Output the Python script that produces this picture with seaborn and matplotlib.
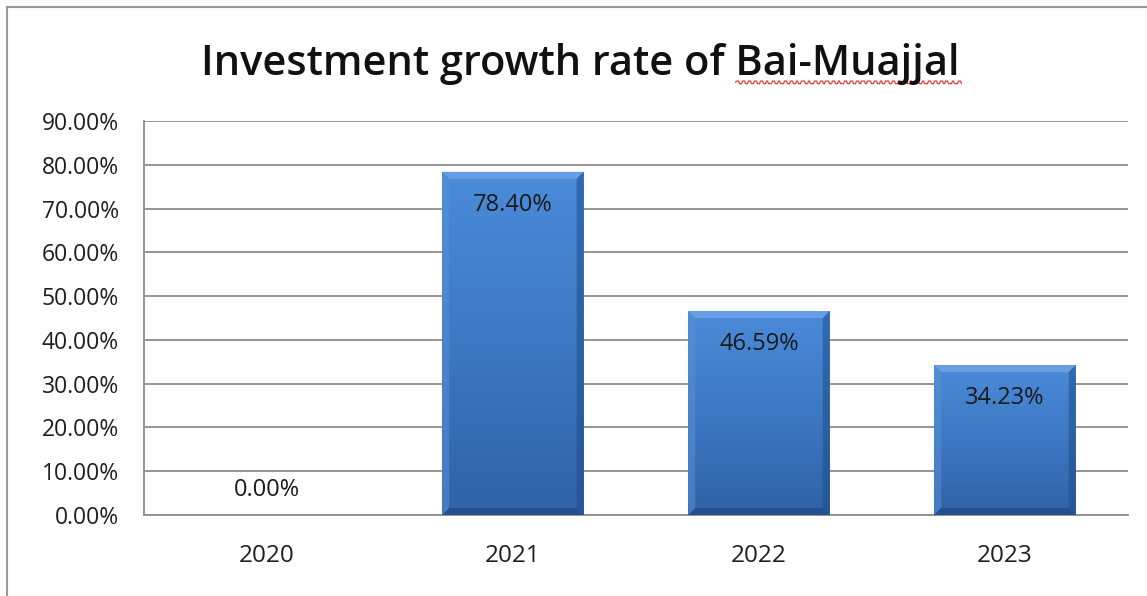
import numpy as np
import pandas as pd
import matplotlib
matplotlib.use("Agg")
import matplotlib.pyplot as plt
from matplotlib.colors import LinearSegmentedColormap
from matplotlib.patches import Rectangle, Polygon
from matplotlib.lines import Line2D
from matplotlib.ticker import FuncFormatter, MultipleLocator
import seaborn as sns

# Data
years = ["2020", "2021", "2022", "2023"]
growth = [0.0, 0.7840, 0.4659, 0.3423]
title_head = "Investment growth rate of "
title_tail = "Bai-Muajjal"

sns.set_theme(style="white")
plt.rcParams["font.family"] = ["Open Sans", "DejaVu Sans"]

W, H = 1147, 596
fig = plt.figure(figsize=(W / 100, H / 100), dpi=100)
ax = fig.add_axes([0.1255, 0.1359, 0.9834 - 0.1255, 0.797 - 0.1359])

df = pd.DataFrame({"year": years, "growth": growth})
sns.barplot(data=df, x="year", y="growth", color="#3f7cc6", width=0.575,
            ax=ax, zorder=3, edgecolor="none", linewidth=0)

ax.set_ylim(0, 0.9)
ax.set_xlim(-0.5, 3.5)

# data units per pixel, for the bevel size
bbox = ax.get_position()
dx = 4.0 / (bbox.width * W)
dy = 0.9 / (bbox.height * H)
bev = 7

# Gradient fill with a bevelled rim for each bar
cmap_v = LinearSegmentedColormap.from_list("v", ["#4a8bd9", "#3d78c2", "#2f62a6"])
for patch in ax.patches:
    x0, y0 = patch.get_x(), patch.get_y()
    w, h = patch.get_width(), patch.get_height()
    if h <= 0:
        continue
    ny, nx = 200, 100
    yy = np.linspace(1, 0, ny)[:, None]
    xx = np.linspace(0, 1, nx)[None, :]
    img = cmap_v(1 - yy * np.ones_like(xx))[..., :3]
    im = ax.imshow(img, extent=[x0, x0 + w, y0, y0 + h], aspect="auto",
                   origin="upper", zorder=3.5, interpolation="bilinear")
    im.set_clip_path(patch)
    bx, by = bev * dx, bev * dy
    x1, y1 = x0 + w, y0 + h
    top = Polygon([(x0, y1), (x1, y1), (x1 - bx, y1 - by), (x0 + bx, y1 - by)],
                  closed=True, facecolor="#6ea3e6", edgecolor="none", alpha=0.85, zorder=3.6)
    left = Polygon([(x0, y0), (x0, y1), (x0 + bx, y1 - by), (x0 + bx, y0 + by)],
                   closed=True, facecolor="#5a90d6", edgecolor="none", alpha=0.55, zorder=3.6)
    right = Polygon([(x1, y0), (x1, y1), (x1 - bx, y1 - by), (x1 - bx, y0 + by)],
                    closed=True, facecolor="#1f4d8a", edgecolor="none", alpha=0.55, zorder=3.6)
    bottom = Polygon([(x0, y0), (x1, y0), (x1 - bx, y0 + by), (x0 + bx, y0 + by)],
                     closed=True, facecolor="#1d467e", edgecolor="none", alpha=0.6, zorder=3.6)
    for p in (top, left, right, bottom):
        ax.add_patch(p)

# Value labels
for i, v in enumerate(growth):
    off = -24 if v > 0 else 18
    ax.annotate(f"{v*100:.2f}%", (i, v), xytext=(0, off), textcoords="offset points",
                ha="center", va="center", fontsize=17, color="#1a1a1a", zorder=5)

ax.yaxis.set_major_locator(MultipleLocator(0.1))
ax.yaxis.set_major_formatter(FuncFormatter(lambda v, p: f"{v*100:.2f}%"))
ax.grid(axis="y", color="#8c8c8c", linewidth=1.3, zorder=0)
ax.set_axisbelow(True)
ax.set_xlabel("")
ax.set_ylabel("")
ax.tick_params(axis="y", length=0, pad=18, labelsize=16.5, labelcolor="#1f1f1f")
ax.tick_params(axis="x", length=0, pad=21, labelsize=17.5, labelcolor="#1f1f1f")
for s in ["top", "right"]:
    ax.spines[s].set_visible(False)
for s in ["left", "bottom"]:
    ax.spines[s].set_color("#8c8c8c")
    ax.spines[s].set_linewidth(1.3)

# Title, sized to span the chart width
title = fig.text(0.506, 0.892, title_head + title_tail, ha="center", va="center",
                 fontsize=30, fontweight="semibold", color="#111111")
renderer = fig.canvas.get_renderer()
target = 758
tw = title.get_window_extent(renderer).width
title.set_fontsize(30 * target / tw)
tb = title.get_window_extent(renderer)
probe = fig.text(0, 0, title_head.rstrip() + " ", fontsize=title.get_fontsize(),
                 fontweight="semibold")
head_w = probe.get_window_extent(renderer).width
probe.remove()

# wavy underline beneath the last word
ux0 = tb.x0 + head_w
ux1 = tb.x1 + 2
uy = tb.y0 + 3
xs = np.arange(ux0, ux1, 1.0)
ys = uy + 1.3 * np.sign(np.sin((xs - ux0) * np.pi / 3.0))
fig.add_artist(Line2D(xs / W, ys / H, transform=fig.transFigure, color="#e23b3b",
                      linewidth=0.9))

# Chart frame
fig.add_artist(Rectangle((7 / W, -0.1), 1.2, 1 - 7 / H + 0.1, transform=fig.transFigure,
                         fill=False, edgecolor="#999999", linewidth=1.5))

fig.savefig("out.png", dpi=100, facecolor="white")
